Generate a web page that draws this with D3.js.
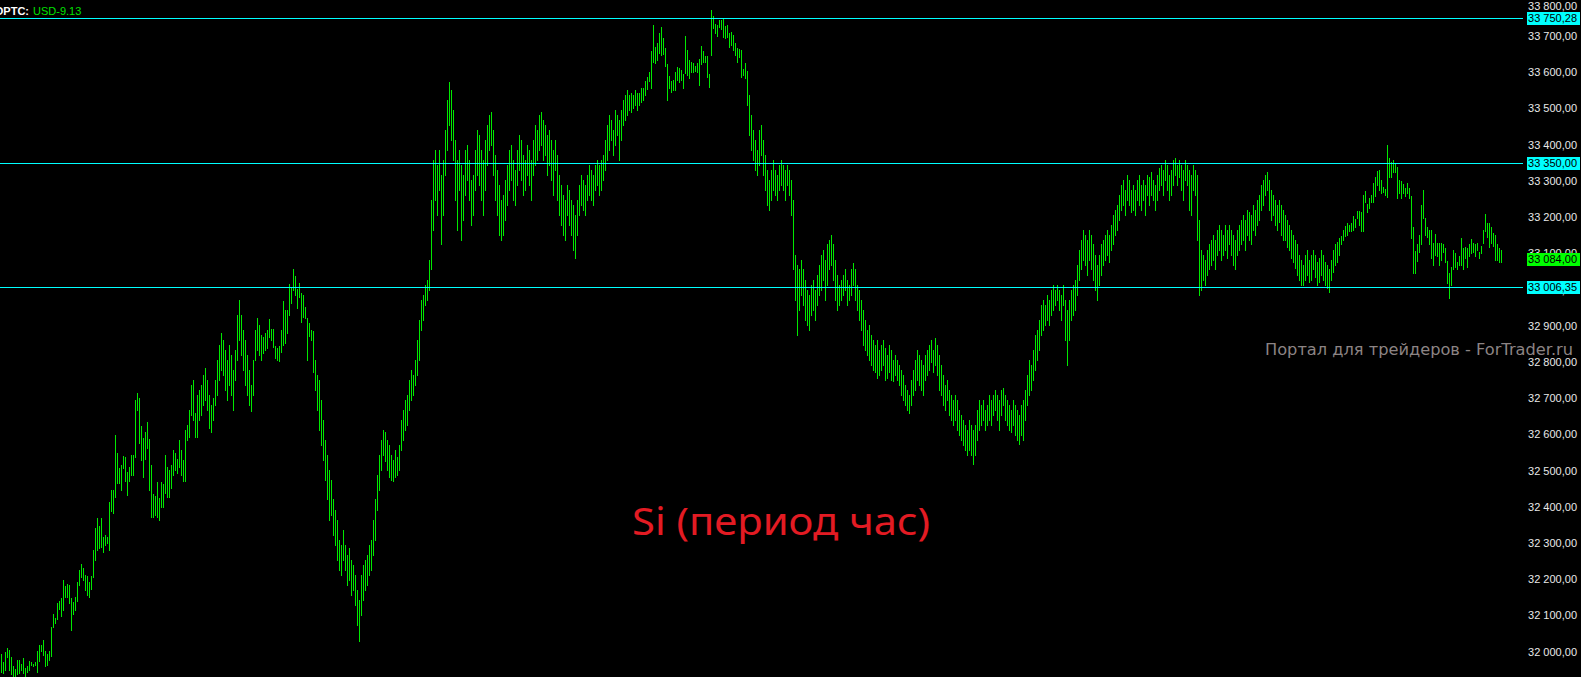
<!DOCTYPE html>
<html><head><meta charset="utf-8">
<script src="https://cdn.jsdelivr.net/npm/d3@7"></script>
<style>html,body{margin:0;padding:0;background:#000;overflow:hidden}</style>
</head><body>
<svg id="c" width="1581" height="677"></svg>
<script>
// Hourly bars: high and low prices, one per bar
const highs = [
31993,31969,31999,32010,32004,31983,31958,31952,31975,31975,
31966,31980,31955,31958,31972,31969,31966,31969,32002,32018,
32016,32032,32002,31993,32002,32068,32104,32093,32132,32140,
32148,32198,32179,32187,32182,32146,32135,32151,32192,32223,
32242,32231,32211,32209,32190,32209,32280,32341,32369,32347,
32369,32316,32322,32316,32411,32446,32446,32598,32548,32507,
32513,32540,32535,32496,32510,32543,32543,32695,32714,32700,
32621,32590,32604,32634,32587,32515,32435,32430,32466,32424,
32466,32463,32543,32510,32501,32513,32557,32546,32532,32582,
32557,32529,32612,32625,32667,32736,32750,32659,32708,32722,
32736,32764,32783,32750,32708,32681,32700,32750,32805,32846,
32880,32860,32833,32805,32846,32819,32777,32833,32929,32971,
32929,32888,32860,32819,32777,32736,32805,32888,32921,32902,
32874,32868,32879,32888,32918,32890,32890,32844,32838,32844,
32888,32968,32941,32943,33015,33004,33056,33037,33001,33018,
32990,32984,32951,32921,32907,32888,32883,32805,32764,32750,
32695,32639,32584,32543,32501,32474,32419,32391,32363,32308,
32294,32336,32294,32267,32286,32253,32239,32211,32170,32142,
32211,32239,32253,32267,32294,32308,32363,32419,32487,32543,
32584,32612,32606,32584,32570,32543,32529,32557,32535,32570,
32639,32667,32695,32708,32750,32777,32764,32805,32860,32915,
32971,32984,33012,33026,33081,33247,33357,33385,33343,33385,
33316,33357,33440,33523,33573,33550,33495,33412,33357,33385,
33343,33316,33385,33399,33357,33302,33316,33385,33440,33426,
33385,33357,33412,33454,33481,33488,33440,33371,33330,33288,
33247,33261,33302,33343,33385,33399,33357,33330,33385,33426,
33412,33371,33357,33399,33385,33357,33412,33454,33440,33481,
33490,33468,33454,33426,33440,33412,33385,33412,33371,33316,
33288,33261,33247,33288,33274,33247,33233,33205,33247,33288,
33316,33302,33288,33316,33343,33330,33316,33343,33357,33343,
33357,33371,33412,33454,33481,33468,33440,33495,33481,33468,
33495,33523,33537,33550,33537,33542,33537,33550,33542,33542,
33556,33556,33575,33586,33600,33658,33730,33669,33680,33708,
33724,33694,33666,33622,33589,33575,33578,33600,33614,33611,
33606,33595,33700,33661,33633,33628,33625,33617,33625,33636,
33672,33658,33644,33644,33595,33771,33755,33733,33730,33744,
33744,33747,33727,33730,33708,33711,33702,33680,33666,33664,
33661,33608,33625,33603,33537,33481,33440,33412,33385,33440,
33454,33412,33371,33330,33302,33330,33357,33330,33316,33343,
33357,33343,33330,33343,33330,33302,33247,33095,33067,33054,
33081,33054,33026,32998,32984,33012,33026,32998,33040,33067,
33095,33109,33081,33123,33136,33150,33123,33081,33040,33012,
33026,33040,33054,33026,33012,33054,33073,33054,33012,32998,
32971,32943,32915,32888,32902,32874,32860,32846,32860,32833,
32846,32860,32838,32819,32846,32833,32805,32819,32805,32791,
32777,32764,32736,32722,32708,32750,32777,32805,32833,32819,
32805,32791,32819,32833,32846,32860,32833,32866,32846,32819,
32791,32764,32736,32750,32722,32708,32695,32708,32695,32667,
32653,32639,32625,32612,32639,32625,32612,32625,32667,32695,
32681,32695,32667,32681,32708,32695,32708,32722,32708,32695,
32722,32728,32708,32695,32681,32667,32695,32681,32667,32653,
32681,32695,32722,32764,32805,32791,32833,32874,32888,32915,
32957,32971,32957,32984,32971,32998,33012,32998,33012,32998,
32984,33012,32971,32943,32971,32998,33012,33026,33067,33109,
33136,33164,33150,33136,33164,33150,33123,33095,33067,33095,
33123,33136,33150,33164,33150,33178,33205,33219,33233,33261,
33288,33302,33274,33316,33302,33274,33288,33274,33302,33316,
33288,33302,33288,33316,33308,33324,33302,33288,33316,33335,
33343,33330,33357,33343,33316,33330,33357,33363,33343,33357,
33343,33330,33357,33343,33330,33316,33343,33330,33316,33192,
33109,33095,33081,33109,33123,33136,33150,33136,33164,33178,
33164,33150,33178,33164,33178,33164,33150,33136,33164,33178,
33192,33205,33192,33219,33214,33205,33233,33219,33247,33261,
33288,33302,33316,33324,33302,33274,33261,33247,33233,33247,
33233,33219,33205,33192,33178,33164,33150,33136,33123,33095,
33081,33067,33095,33109,33081,33095,33109,33095,33076,33087,
33109,33095,33076,33067,33054,33081,33109,33123,33131,33142,
33147,33164,33175,33181,33178,33181,33203,33194,33216,33216,
33214,33261,33272,33236,33250,33261,33294,33310,33327,33330,
33302,33283,33277,33399,33363,33352,33355,33346,33338,33302,
33299,33291,33280,33294,33280,33258,33172,33106,33123,33150,
33233,33274,33197,33170,33164,33164,33128,33153,33128,33128,
33128,33125,33114,33078,33045,33062,33109,33100,33076,33090,
33142,33114,33117,33114,33125,33139,33128,33123,33128,33103,
33120,33164,33208,33181,33181,33172,33156,33150,33123,33114,33109
];
const lows = [
31944,31941,31949,31985,31949,31936,31931,31931,31936,31939,
31949,31941,31933,31944,31949,31963,31958,31963,31944,31972,
32000,31991,31958,31963,31977,31988,32068,32079,32090,32118,
32098,32115,32151,32151,32132,32060,32104,32115,32140,32182,
32206,32198,32170,32156,32151,32173,32206,32253,32280,32286,
32289,32275,32294,32300,32280,32386,32383,32427,32465,32465,
32444,32507,32469,32432,32469,32487,32487,32535,32667,32576,
32527,32480,32532,32562,32444,32372,32372,32377,32372,32363,
32397,32397,32438,32427,32427,32452,32487,32501,32493,32510,
32487,32469,32469,32584,32592,32653,32639,32592,32592,32639,
32653,32681,32695,32667,32617,32606,32639,32681,32708,32750,
32777,32764,32722,32695,32736,32708,32667,32750,32805,32860,
32819,32777,32736,32708,32681,32662,32708,32805,32833,32819,
32805,32824,32833,32838,32868,32860,32841,32811,32805,32802,
32827,32846,32852,32880,32927,32962,32998,32984,32949,32979,
32910,32924,32921,32805,32871,32860,32772,32722,32667,32612,
32570,32529,32474,32419,32363,32377,32322,32294,32253,32225,
32211,32253,32225,32184,32198,32156,32170,32129,32073,32027,
32101,32142,32170,32184,32211,32225,32267,32308,32391,32446,
32501,32543,32524,32501,32480,32474,32469,32480,32487,32501,
32557,32584,32612,32625,32667,32695,32708,32736,32764,32805,
32888,32915,32957,32971,32998,33054,33164,33247,33205,33274,
33123,33205,33316,33385,33454,33412,33357,33247,33164,33274,
33136,33192,33261,33302,33247,33178,33205,33274,33316,33288,
33247,33205,33274,33343,33385,33399,33316,33247,33205,33150,
33136,33150,33192,33233,33274,33302,33247,33233,33288,33330,
33302,33261,33274,33316,33288,33247,33316,33343,33357,33385,
33399,33357,33371,33316,33343,33302,33261,33330,33247,33205,
33178,33150,33136,33205,33178,33150,33109,33087,33150,33205,
33233,33219,33205,33247,33261,33247,33233,33274,33288,33261,
33274,33302,33330,33357,33385,33412,33371,33399,33426,33357,
33412,33454,33468,33481,33495,33490,33500,33509,33495,33509,
33517,33523,33537,33553,33575,33556,33628,33625,33633,33653,
33647,33650,33617,33523,33556,33545,33550,33550,33578,33573,
33578,33556,33597,33592,33584,33600,33600,33603,33600,33564,
33620,33628,33628,33586,33559,33647,33722,33708,33700,33724,
33719,33697,33694,33697,33669,33675,33661,33647,33628,33642,
33586,33592,33584,33509,33426,33385,33357,33330,33316,33343,
33371,33316,33274,33233,33219,33247,33274,33261,33247,33274,
33288,33274,33247,33288,33261,33205,33054,32971,32874,32943,
32984,32957,32915,32902,32888,32929,32943,32915,32957,32984,
32998,33026,32971,33012,33054,33067,33026,32971,32943,32957,
32971,32984,32998,32957,32971,32984,33012,32971,32943,32915,
32888,32846,32833,32819,32805,32791,32777,32772,32755,32764,
32777,32791,32750,32755,32772,32750,32745,32764,32750,32736,
32708,32695,32681,32667,32659,32681,32708,32722,32750,32736,
32722,32708,32750,32764,32777,32799,32772,32791,32764,32722,
32708,32681,32667,32695,32653,32639,32625,32639,32612,32598,
32584,32570,32557,32543,32557,32543,32518,32543,32584,32612,
32625,32639,32612,32625,32639,32625,32653,32667,32639,32612,
32653,32681,32639,32625,32612,32606,32625,32598,32584,32573,
32598,32584,32639,32681,32708,32722,32750,32777,32805,32833,
32874,32888,32902,32915,32902,32929,32943,32957,32971,32943,
32915,32957,32860,32791,32860,32915,32929,32943,32984,33026,
33054,33081,33067,33040,33081,33054,33026,32998,32971,33012,
33040,33067,33081,33095,33076,33109,33123,33150,33164,33192,
33219,33233,33205,33247,33233,33214,33219,33205,33247,33233,
33219,33247,33205,33261,33233,33261,33247,33219,33247,33274,
33288,33261,33302,33274,33247,33261,33288,33316,33288,33308,
33274,33247,33302,33288,33219,33205,33274,33261,33136,32984,
32998,33026,33012,33040,33054,33067,33081,33054,33095,33109,
33081,33095,33109,33087,33123,33095,33067,33054,33095,33109,
33123,33136,33109,33150,33136,33123,33164,33150,33178,33192,
33219,33233,33261,33274,33219,33192,33205,33178,33164,33186,
33150,33136,33136,33115,33109,33087,33076,33059,33040,33026,
33012,33012,33026,33040,33020,33026,33054,33032,33012,33020,
33040,33026,33012,33004,32993,33026,33048,33067,33076,33095,
33123,33136,33147,33150,33159,33161,33164,33172,33197,33178,
33161,33161,33239,33214,33225,33241,33241,33258,33288,33274,
33266,33269,33261,33255,33310,33310,33324,33324,33252,33266,
33252,33266,33258,33266,33252,33142,33045,33045,33078,33103,
33123,33197,33150,33145,33123,33087,33067,33095,33090,33067,
33081,33103,33076,33018,32976,33012,33054,33062,33054,33067,
33067,33054,33087,33062,33090,33100,33103,33090,33109,33087,
33100,33128,33159,33145,33117,33128,33120,33081,33081,33076,33076
];
const priceTicks = [32000,32100,32200,32300,32400,32500,32600,32700,32800,32900,33000,33100,33200,33300,33400,33500,33600,33700,33800];
const levelLines = [33750.28, 33350.00, 33006.35];
const lastPrice = 33084.00;
const symbolLabel = "OPTC:";
const symbolValue = "USD-9.13";
const titleText = "Si (период час)";
const watermarkText = "Портал для трейдеров - ForTrader.ru";

const W = 1581, H = 677;
const svg = d3.select("#c");
svg.append("rect").attr("width", W).attr("height", H).attr("fill", "#000");

const n = Math.min(highs.length, lows.length);
const x = d3.scaleLinear().domain([0, n - 1]).range([1, 1501]);
const y = d3.scaleLinear().domain([31930.3, 33799.4]).range([H, 0]);
const loc = d3.formatLocale({decimal: ",", thousands: " ", grouping: [3], currency: ["", ""]});
const fmt = loc.format(",.2f");

// bars
svg.append("g").attr("shape-rendering", "crispEdges")
  .selectAll("rect").data(d3.range(n)).join("rect")
  .attr("x", i => Math.round(x(i)))
  .attr("width", 1)
  .attr("y", i => Math.floor(y(highs[i])))
  .attr("height", i => Math.max(1, Math.ceil(y(lows[i])) - Math.floor(y(highs[i]))))
  .attr("fill", "#00e800");

// horizontal level lines
svg.append("g").attr("shape-rendering", "crispEdges")
  .selectAll("line").data(levelLines).join("line")
  .attr("x1", 0).attr("x2", 1523)
  .attr("y1", d => Math.round(y(d)) + 0.5).attr("y2", d => Math.round(y(d)) + 0.5)
  .attr("stroke", "#00ffff").attr("stroke-width", 1);

// title
svg.append("text").attr("x", 632).attr("y", 535)
  .attr("font-family", "'Noto Sans', 'Open Sans', sans-serif").attr("font-size", 39)
  .attr("fill", "#e31b23").attr("textLength", 298).attr("lengthAdjust", "spacingAndGlyphs")
  .text(titleText);

// price axis labels
const axisG = svg.append("g").attr("font-family", "'Liberation Sans', Arial, sans-serif").attr("font-size", 11);
axisG.selectAll("text").data(priceTicks).join("text")
  .attr("x", 1577).attr("text-anchor", "end")
  .attr("y", d => Math.max(y(d), 6)).attr("dy", "0.36em")
  .attr("fill", "#e8e8e8").text(d => fmt(d));

// watermark
svg.append("text").attr("x", 1265).attr("y", 355)
  .attr("font-family", "'DejaVu Sans', sans-serif").attr("font-size", 16)
  .attr("fill", "#8c8484").attr("textLength", 308).attr("lengthAdjust", "spacingAndGlyphs")
  .text(watermarkText);

// price boxes
const boxes = levelLines.map(v => ({v, bg: "#00ffff"})).concat([{v: lastPrice, bg: "#00ff00"}]);
const bg = svg.append("g");
bg.selectAll("rect").data(boxes).join("rect")
  .attr("shape-rendering", "crispEdges")
  .attr("x", 1527).attr("width", 53)
  .attr("y", d => Math.round(y(d.v)) - 6).attr("height", 13)
  .attr("fill", d => d.bg);
bg.selectAll("text").data(boxes).join("text")
  .attr("x", 1577).attr("text-anchor", "end")
  .attr("y", d => Math.round(y(d.v)) + 0.5).attr("dy", "0.36em")
  .attr("font-family", "'Liberation Sans', Arial, sans-serif").attr("font-size", 11)
  .attr("fill", "#000").text(d => fmt(d.v));

// top-left symbol text
svg.append("text").attr("x", 29).attr("y", 14.5).attr("text-anchor", "end")
  .attr("font-family", "'Liberation Sans', Arial, sans-serif").attr("font-size", 11).attr("font-weight", "bold")
  .attr("fill", "#ffffff").text(symbolLabel);
svg.append("text").attr("x", 33).attr("y", 14.5)
  .attr("font-family", "'Liberation Sans', Arial, sans-serif").attr("font-size", 11)
  .attr("fill", "#00e000").text(symbolValue);
</script>
</body></html>
